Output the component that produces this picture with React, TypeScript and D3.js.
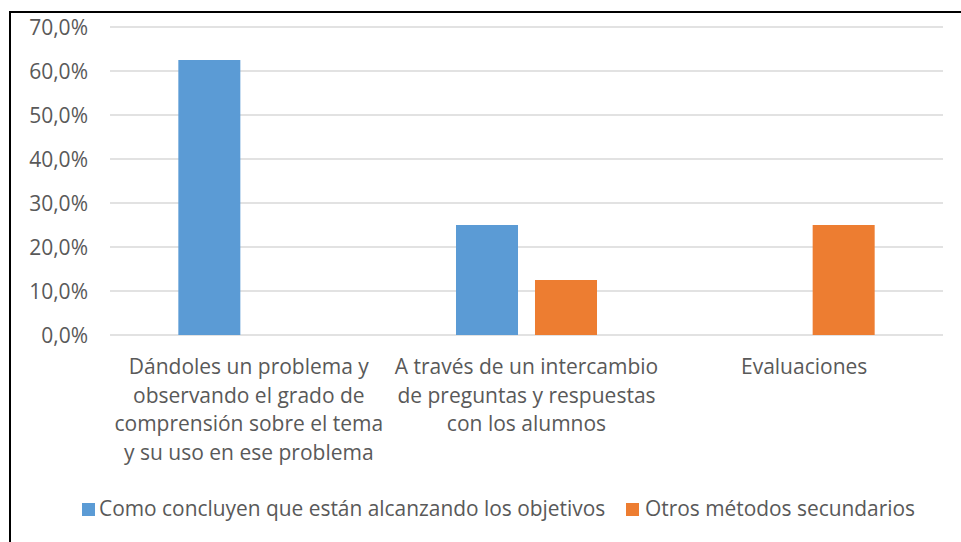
import React from "react";
import * as d3 from "d3";

const categories = ["cat1", "cat2", "cat3"];
const categoryLines = [
  ["Dándoles un problema y", "observando el grado de", "comprensión sobre el tema", "y su uso en ese problema"],
  ["A través de un intercambio", "de preguntas y respuestas", "con los alumnos"],
  ["Evaluaciones"],
];
const seriesNames = ["Como concluyen que están alcanzando los objetivos", "Otros métodos secundarios"];
const seriesA = [0.625, 0.25, 0];
const seriesB = [0, 0.125, 0.25];
const yTicks = [0, 0.1, 0.2, 0.3, 0.4, 0.5, 0.6, 0.7];
const colors = ["#5B9BD5", "#ED7D31"];

const W = 961;
const H = 542;
const FONT = "'Open Sans', sans-serif";
const TEXT = "#595959";

export default function App() {
  const x0 = d3.scaleBand<string>().domain(categories).range([110, 943]).paddingInner(0).paddingOuter(0);
  const x1 = d3.scaleBand<number>().domain([0, 1]).range([0, x0.bandwidth()]).paddingInner(0.215).paddingOuter(0.865);
  const y = d3.scaleLinear().domain([0, 0.7]).range([335, 27]);
  const fmt = (v: number) => d3.format(".1f")(v * 100).replace(".", ",") + "%";
  const series = [seriesA, seriesB];

  return (
    <svg width={W} height={H} style={{ position: "absolute", left: 0, top: 0, background: "#fff" }} fontFamily={FONT}>
      <rect x={0} y={0} width={W} height={H} fill="#fff" />
      <rect x={10} y={12} width={W + 10} height={H + 10} fill="none" stroke="#000" strokeWidth={2} />
      {yTicks.map((t) => (
        <g key={t}>
          <line x1={110} x2={943} y1={y(t)} y2={y(t)} stroke="#d9d9d9" strokeWidth={1.5} />
          <text x={88} y={y(t)} dy="0.36em" textAnchor="end" fontSize={21} fill={TEXT}>
            {fmt(t)}
          </text>
        </g>
      ))}
      {categories.map((c, ci) => (
        <g key={c} transform={`translate(${x0(c)},0)`}>
          {series.map((s, si) =>
            s[ci] > 0 ? (
              <rect
                key={si}
                x={x1(si)}
                y={y(s[ci])}
                width={x1.bandwidth()}
                height={y(0) - y(s[ci])}
                fill={colors[si]}
              />
            ) : null
          )}
          <text textAnchor="middle" fontSize={21} fill={TEXT}>
            {categoryLines[ci].map((l, li) => (
              <tspan key={li} x={x0.bandwidth() / 2} y={374 + li * 28.5}>
                {l}
              </tspan>
            ))}
          </text>
        </g>
      ))}
      <g>
        <rect x={82} y={503} width={13} height={13} fill={colors[0]} />
        <text x={99} y={516} fontSize={20.9} fill={TEXT}>{seriesNames[0]}</text>
        <rect x={626} y={503} width={13} height={13} fill={colors[1]} />
        <text x={645} y={516} fontSize={20.9} fill={TEXT}>{seriesNames[1]}</text>
      </g>
    </svg>
  );
}
